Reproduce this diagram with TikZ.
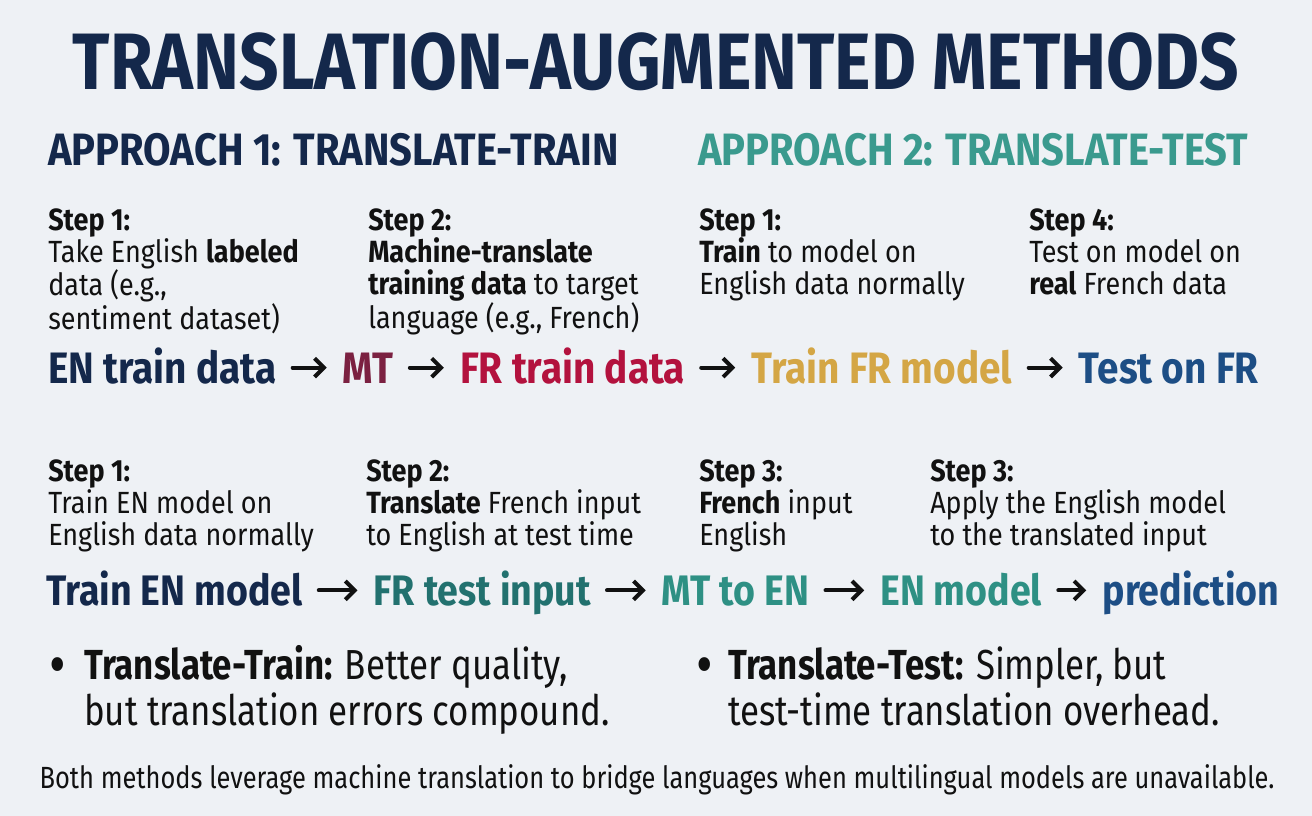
\documentclass[tikz,border=0pt]{standalone}
\usepackage{fontspec}
\usepackage{xcolor}
\usetikzlibrary{arrows.meta,positioning}
\setmainfont{Fira Sans}[FakeStretch=0.88]
\newfontfamily\titlefont{Fira Sans}[FakeStretch=0.865]
\newfontfamily\narrowfont{Fira Sans}[FakeStretch=0.83]

\definecolor{bgpaper}{HTML}{EEF1F5}
\definecolor{navyhead}{HTML}{14284B}
\definecolor{tealhead}{HTML}{3A9A8E}
\definecolor{mtmaroon}{HTML}{7B2141}
\definecolor{frcrimson}{HTML}{B3123E}
\definecolor{goldtrain}{HTML}{D4A645}
\definecolor{testblue}{HTML}{1D4E85}
\definecolor{tealdark}{HTML}{22716F}
\definecolor{tealmid}{HTML}{2E9084}
\definecolor{inkblack}{HTML}{111111}

\tikzset{
  steptext/.style={anchor=north west,inner sep=0pt,align=left,text=inkblack,
    font=\fontsize{23}{24}\selectfont},
  flowword/.style={anchor=base west,inner sep=0pt,text height=23pt,text depth=0pt,
    font=\bfseries\fontsize{33}{36}\selectfont},
  flowwordb/.style={flowword,text height=22pt,font=\bfseries\fontsize{32}{35}\selectfont},
  flowarrow/.style={-{Straight Barb[length=7pt,width=14pt,line width=3pt]},
    line width=3pt,line cap=round,inkblack,shorten <=12pt,shorten >=12pt},
  bullettext/.style={anchor=base west,inner sep=0pt,align=left,text=inkblack,
    font=\narrowfont\fontsize{31.5}{34}\selectfont},
  bulletdot/.style={anchor=base,inner sep=0pt,text=inkblack,
    font=\narrowfont\fontsize{46}{46}\selectfont},
}

\begin{document}
\begin{tikzpicture}[x=0.75pt,y=0.75pt,yscale=-1,xscale=1]
%background, sets the size of the diagram
\fill[bgpaper] (0,0) rectangle (1312,816);
\useasboundingbox (0,0) rectangle (1312,816);

% Title
\node (title) [anchor=base,inner sep=0pt,text=navyhead,font=\titlefont\bfseries\fontsize{60}{64}\selectfont] at (656,90) {TRANSLATION-AUGMENTED METHODS};
% Approach headings
\node (headtrain) [anchor=base west,inner sep=0pt,text=navyhead,font=\bfseries\fontsize{34}{38}\selectfont] at (48,166) {APPROACH 1: TRANSLATE-TRAIN};
\node (headtest) [anchor=base west,inner sep=0pt,text=tealhead,font=\bfseries\fontsize{34}{38}\selectfont] at (698,166) {APPROACH 2: TRANSLATE-TEST};

% Steps, first row
\node (stepa) [steptext] at (48,208) {\textbf{Step 1:}\\Take English \textbf{labeled}\\data (e.g.,\\sentiment dataset)};
\node (stepb) [steptext] at (368,208) {\textbf{Step 2:}\\\textbf{Machine-translate}\\\textbf{training data} to target\\language (e.g., French)};
\node (stepc) [steptext] at (699,208) {\textbf{Step 1:}\\\textbf{Train} to model on\\English data normally};
\node (stepd) [steptext] at (1029,208) {\textbf{Step 4:}\\Test on model on\\\textbf{real} French data};

% Flow, first row
\node (entrain) [flowword,text=navyhead] at (48,383) {EN train data};
\node (mt) [flowword,text=mtmaroon,right=49.5pt of entrain] {MT};
\node (frtrain) [flowword,text=frcrimson,right=49.5pt of mt] {FR train data};
\node (frmodel) [flowword,text=goldtrain,right=49.5pt of frtrain] {Train FR model};
\node (testfr) [flowword,text=testblue,right=49.5pt of frmodel] {Test on FR};
\draw[flowarrow] (entrain) -- (mt);
\draw[flowarrow] (mt) -- (frtrain);
\draw[flowarrow] (frtrain) -- (frmodel);
\draw[flowarrow] (frmodel) -- (testfr);

% Steps, second row
\node (stepe) [steptext] at (48,459) {\textbf{Step 1:}\\Train EN model on\\English data normally};
\node (stepf) [steptext] at (366,459) {\textbf{Step 2:}\\\textbf{Translate} French input\\to English at test time};
\node (stepg) [steptext] at (699,459) {\textbf{Step 3:}\\\textbf{French} input\\English};
\node (steph) [steptext] at (930,459) {\textbf{Step 3:}\\Apply the English model\\to the translated input};

% Flow, second row
\node (trainen) [flowwordb,text=navyhead] at (46,605) {Train EN model};
\node (frtest) [flowwordb,text=tealdark,right=53pt of trainen] {FR test input};
\node (mttoen) [flowwordb,text=tealmid,right=53pt of frtest] {MT to EN};
\node (enmodel) [flowwordb,text=tealmid,right=53pt of mttoen] {EN model};
\node (predict) [flowwordb,text=testblue,right=45pt of enmodel] {prediction};
\draw[flowarrow] (trainen) -- (frtest);
\draw[flowarrow] (frtest) -- (mttoen);
\draw[flowarrow] (mttoen) -- (enmodel);
\draw[flowarrow] (enmodel) -- (predict);

% Summary bullets (base anchor sits on the last line)
\node (dota) [bulletdot] at (58,685) {•};
\node (sumtrain) [bullettext] at (84,725) {\textbf{Translate-Train:} Better quality,\\but translation errors compound.};
\node (dotb) [bulletdot] at (705,685) {•};
\node (sumtest) [bullettext] at (728,725) {\textbf{Translate-Test:} Simpler, but\\test-time translation overhead.};

% Footer
\node (footer) [anchor=base,inner sep=0pt,text=inkblack,font=\narrowfont\fontsize{23}{26}\selectfont] at (657,788) {Both methods leverage machine translation to bridge languages when multilingual models are unavailable.};

\end{tikzpicture}
\end{document}
